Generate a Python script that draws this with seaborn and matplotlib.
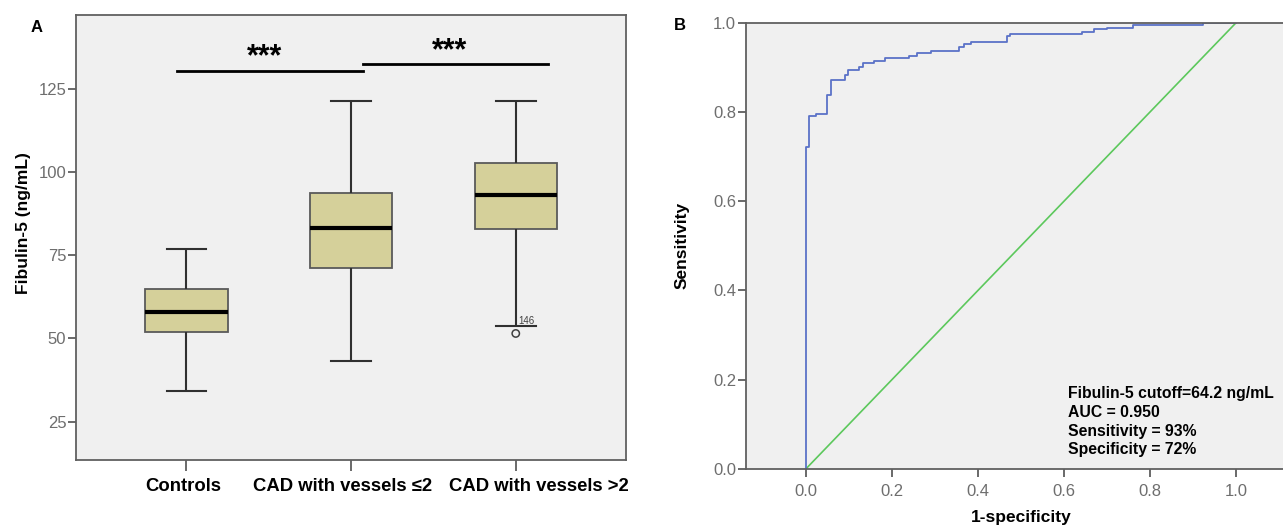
import numpy as np
import pandas as pd
import matplotlib
matplotlib.use("Agg")
import matplotlib.pyplot as plt
import seaborn as sns

plt.rcParams['font.family'] = ['Liberation Sans', 'DejaVu Sans']

# panel A: five-number summaries (min, Q1, median, Q3, max)
groups = ["Controls", "CAD with vessels \u22642", "CAD with vessels >2"]
controls = [34.2, 51.8, 57.9, 64.8, 76.9]
cad_le2 = [43.3, 71.2, 83.3, 93.7, 121.2]
cad_gt2 = [53.7, 82.9, 93.1, 102.8, 121.2]
outlier_value = 51.5
outlier_label = "146"

# panel B: ROC steps (1-specificity, sensitivity)
fpr = [0.0, 0.0, 0.007, 0.023, 0.049, 0.058, 0.091, 0.098, 0.123, 0.132, 0.158,
       0.183, 0.241, 0.258, 0.291, 0.357, 0.367, 0.383, 0.467, 0.474, 0.641,
       0.669, 0.699, 0.760, 0.924, 1.0]
tpr = [0.0, 0.721, 0.791, 0.796, 0.839, 0.872, 0.883, 0.893, 0.901, 0.910, 0.914,
       0.920, 0.925, 0.931, 0.936, 0.946, 0.952, 0.957, 0.969, 0.974, 0.980,
       0.985, 0.989, 0.995, 1.0, 1.0]
stats_text = "Fibulin-5 cutoff=64.2 ng/mL\nAUC = 0.950\nSensitivity = 93%\nSpecificity = 72%"

df = pd.DataFrame({
    "group": np.repeat(groups, 5),
    "value": controls + cad_le2 + cad_gt2,
})

bg = "#f0f0f0"
box_fill = "#d5d09a"
tick_gray = "#6e6e6e"

fig = plt.figure(figsize=(12.83, 5.27), dpi=100)
axA = fig.add_axes([0.0593, 0.127, 0.4287, 0.844])
axB = fig.add_axes([0.5814, 0.110, 0.4287, 0.847])

# ---- panel A
axA.set_facecolor(bg)
sns.boxplot(data=df, x="group", y="value", order=groups, color=box_fill,
            saturation=1, width=0.5, whis=(0, 100), showfliers=False,
            linecolor="#5a5a5a", linewidth=1.3, capwidths=0.24,
            medianprops=dict(color="black", linewidth=3),
            whiskerprops=dict(color="#303030", linewidth=1.5),
            capprops=dict(color="#303030", linewidth=1.5),
            ax=axA)
sns.scatterplot(x=[2], y=[outlier_value], marker="o", s=28, facecolor="none",
                edgecolor="#404040", linewidth=1.1, ax=axA, zorder=3)
axA.text(2.015, 55.3, outlier_label, fontsize=7, color="#404040", va="center")

axA.set_xlim(-0.67, 2.67)
axA.set_ylim(13.5, 147)
axA.set_yticks([25, 50, 75, 100, 125])
axA.set_xlabel("")
axA.set_ylabel("Fibulin-5 (ng/mL)", fontsize=12.5, fontweight="bold")
axA.yaxis.set_label_coords(-0.082, 0.533)
axA.tick_params(axis="y", length=6, width=1.2, color="#505050", labelsize=12,
                labelcolor=tick_gray, pad=1)
axA.tick_params(axis="x", length=8, width=1.2, color="#505050", labelbottom=False)
# category labels sit slightly off their ticks in the original
label_shift = [-0.018, -0.049, 0.142]
for i, (name, dx) in enumerate(zip(groups, label_shift)):
    axA.text(i + dx, -0.0596, name, transform=axA.get_xaxis_transform(),
             fontsize=13.3, fontweight="bold", ha="center", va="center")
for s in axA.spines.values():
    s.set_color("#606060")
    s.set_linewidth(1.3)

# significance bars
axA.plot([-0.056, 1.071], [130.2, 130.2], color="black", lw=2)
axA.plot([1.074, 2.197], [132.5, 132.5], color="black", lw=2)
axA.text(0.475, 132.1, "***", fontsize=22, fontweight="bold", ha="center", va="baseline")
axA.text(1.60, 133.9, "***", fontsize=22, fontweight="bold", ha="center", va="baseline")

fig.text(37 / 1283, 1 - 28 / 527, "A", fontsize=12, fontweight="bold", ha="center", va="center")

# ---- panel B
axB.set_facecolor(bg)
sns.lineplot(x=[0, 1], y=[0, 1], color="#5cc85c", linewidth=1.2, ax=axB)
sns.lineplot(x=fpr, y=tpr, drawstyle="steps-post", estimator=None, sort=False,
             color="#5b72c8", linewidth=1.3, ax=axB)
axB.set_xlim(-0.139, 1.139)
axB.set_ylim(0, 1)
axB.set_xticks([0, 0.2, 0.4, 0.6, 0.8, 1.0])
axB.set_yticks([0, 0.2, 0.4, 0.6, 0.8, 1.0])
axB.set_xticklabels([f"{v:.1f}" for v in axB.get_xticks()])
axB.set_yticklabels([f"{v:.1f}" for v in axB.get_yticks()])
axB.set_xlabel("1-specificity", fontsize=12.5, fontweight="bold", labelpad=7.5)
axB.set_ylabel("Sensitivity", fontsize=12.5, fontweight="bold")
axB.yaxis.set_label_coords(-0.102, 0.502)
axB.tick_params(axis="both", length=6, width=1.2, color="#505050", labelsize=12,
                labelcolor=tick_gray)
axB.tick_params(axis="y", pad=1)
axB.tick_params(axis="x", pad=5)
for s in axB.spines.values():
    s.set_color("#606060")
    s.set_linewidth(1.3)

axB.text(0.61, 0.106, stats_text, fontsize=11.3, fontweight="bold", va="center",
         ha="left", linespacing=1.3)

fig.text(680 / 1283, 1 - 25 / 527, "B", fontsize=12, fontweight="bold", ha="center", va="center")

fig.savefig("out.png", dpi=100)
